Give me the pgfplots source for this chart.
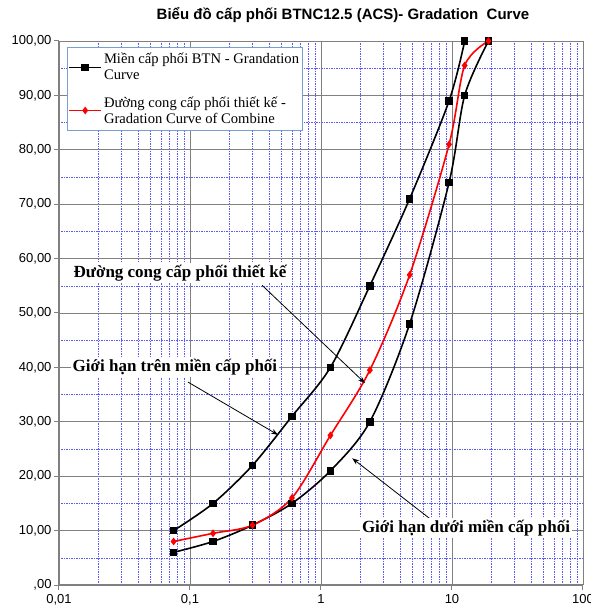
\documentclass[border=0pt]{standalone}
\usepackage{fontspec}
\setmainfont{Liberation Serif}
\setsansfont{Liberation Sans}
\usepackage{pgfplots}
\pgfplotsset{compat=1.18}
\usetikzlibrary{arrows.meta}
\definecolor{majgrid}{RGB}{128,128,128}
\definecolor{mingrid}{RGB}{90,90,255}
\definecolor{legbord}{RGB}{120,160,210}
\begin{document}
\begin{tikzpicture}
\useasboundingbox (-59pt,-31pt) rectangle (532pt,585pt);
\begin{axis}[
  name=main,
  scale only axis, width=524pt, height=544pt,
  xmode=log, xmin=0.01, xmax=100, ymin=0, ymax=100,
  xtick={0.01,0.1,1,10,100},
  xticklabels={{0,01},{0,1},1,10,100},
  ytick={0,10,...,100},
  yticklabels={{,00},{10,00},{20,00},{30,00},{40,00},{50,00},{60,00},{70,00},{80,00},{90,00},{100,00}},
  minor y tick num=1,
  grid=both,
  major grid style={majgrid, line width=0.9pt},
  minor grid style={mingrid, line width=0.5pt, dash pattern=on 1.5pt off 1pt},
  axis x line*=bottom, axis y line*=left,
  axis line style={majgrid, line width=1.4pt, -},
  tick align=outside, major tick length=5pt, minor tick length=0pt,
  tick style={majgrid, line width=1pt},
  /pgf/number format/assume math mode=true,
  ticklabel style={font=\sffamily\fontsize{13}{15}\selectfont},
  yticklabel style={xshift=1pt},
  xticklabel style={yshift=-1pt},
  legend style={at={(0.0153,0.989)}, anchor=north west, draw=legbord, line width=0.8pt,
     font=\fontsize{14.6}{16}\selectfont, inner xsep=1pt, inner ysep=4pt,
     cells={align=left, anchor=west}, row sep=11pt},
  legend cell align=left,
  legend image code/.code={\draw[mark repeat=2,mark phase=2,#1] plot coordinates {(0pt,0pt) (16pt,0pt) (32pt,0pt)};},
]
\addplot[black, line width=1.6pt, smooth, mark=square*, mark size=3pt, mark options={solid}]
  coordinates {(0.075,10) (0.15,15) (0.3,22) (0.6,31) (1.18,40) (2.36,55) (4.75,71) (9.5,89) (12.5,100)};
\addlegendentry{Miền cấp phối BTN - Grandation\\Curve}
\addplot[black, line width=1.6pt, smooth, mark=square*, mark size=3pt, forget plot]
  coordinates {(0.075,6) (0.15,8) (0.3,11) (0.6,15) (1.18,21) (2.36,30) (4.75,48) (9.5,74) (12.5,90) (19,100)};
\addplot[red, line width=1.6pt, smooth, mark=diamond*, mark size=2.6pt]
  coordinates {(0.075,8) (0.15,9.5) (0.3,11) (0.6,16) (1.18,27.5) (2.36,39.5) (4.75,57) (9.5,81) (12.5,95.5) (19,100)};
\addlegendentry{Đường cong cấp phối thiết kế -\\Gradation Curve of Combine}

\draw[-{Stealth[length=7pt,width=5pt]}, line width=0.8pt] (axis cs:0.355,55.1) -- (axis cs:2.17,37.1);
\draw[-{Stealth[length=7pt,width=5pt]}, line width=0.8pt] (axis cs:0.0966,37.3) -- (axis cs:0.47,27.6);
\draw[-{Stealth[length=7pt,width=5pt]}, line width=0.8pt] (axis cs:7.03,11.9) -- (axis cs:1.73,23.3);
\node[fill=white, inner sep=2pt, font=\bfseries\fontsize{17}{19}\selectfont] at (axis cs:0.0839,57.4) {Đường cong cấp phối thiết kế};
\node[fill=white, inner sep=2pt, font=\bfseries\fontsize{17}{19}\selectfont] at (axis cs:0.0768,40.1) {Giới hạn trên miền cấp phối};
\node[fill=white, inner sep=2pt, font=\bfseries\fontsize{17}{19}\selectfont] at (axis cs:12.8,10.5) {Giới hạn dưới miền cấp phối};
\end{axis}
\node[font=\sffamily\bfseries\fontsize{15}{17}\selectfont] at (284pt,570pt) {Biểu đồ cấp phối BTNC12.5 (ACS)- Gradation\ \ Curve};
\end{tikzpicture}
\end{document}
